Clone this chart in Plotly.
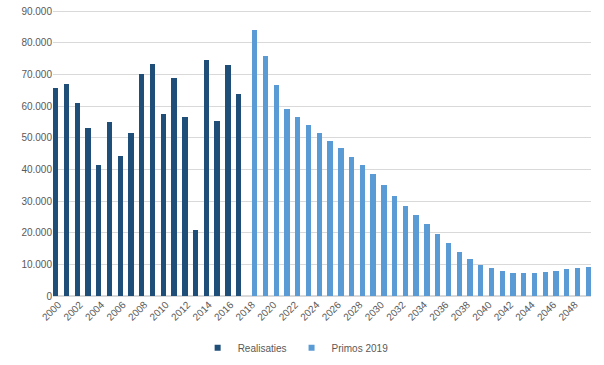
import plotly.graph_objects as go

years = list(range(2000, 2050))
realisaties_years = list(range(2000, 2018))
realisaties = [65700, 67100, 61100, 53200, 41500, 54900, 44300, 51400, 70100, 73400,
               57500, 68900, 56500, 20700, 74700, 55400, 73000, 63700]
primos_years = list(range(2018, 2050))
primos = [84000, 75900, 66800, 59000, 56500, 54100, 51400, 49000, 46900, 44000,
          41300, 38400, 35100, 31700, 28500, 25500, 22700, 19700, 16800, 13900,
          11600, 9900, 8800, 7900, 7300, 7200, 7400, 7600, 8000, 8400, 9000, 9300]
tick_years = list(range(2000, 2050, 2))

real_map = dict(zip(realisaties_years, realisaties))
prim_map = dict(zip(primos_years, primos))
real_full = [real_map.get(y) for y in years]
prim_full = [prim_map.get(y) for y in years]

DARK = "#1f4e79"
LIGHT = "#5b9bd5"

fig = go.Figure()
fig.add_trace(go.Bar(x=years, y=real_full, name="Realisaties", showlegend=False,
                     marker=dict(color=DARK, line=dict(width=0))))
fig.add_trace(go.Bar(x=years, y=prim_full, name="Primos 2019", showlegend=False,
                     marker=dict(color=LIGHT, line=dict(width=0))))
# legend entries with small square symbols
fig.add_trace(go.Scatter(x=[None], y=[None], mode="markers", name="Realisaties",
                         marker=dict(symbol="square", size=6, color=DARK)))
fig.add_trace(go.Scatter(x=[None], y=[None], mode="markers", name="Primos 2019",
                         marker=dict(symbol="square", size=6, color=LIGHT)))

fig.update_layout(
    width=604, height=365,
    barmode="group", bargap=0.0, bargroupgap=0.0,
    separators=",.",
    margin=dict(l=53, r=13, t=8, b=69, autoexpand=False),
    plot_bgcolor="white", paper_bgcolor="white",
    font=dict(family="Liberation Sans, Arial, sans-serif", size=10, color="#595959"),
    showlegend=True,
    legend=dict(orientation="h", x=0.451, xanchor="center",
                yref="container", y=0.047, yanchor="middle",
                font=dict(size=10, color="#595959"), itemwidth=30,
                tracegroupgap=0, traceorder="normal"),
    xaxis=dict(range=[1999.5, 2049.5], tickvals=tick_years,
               ticktext=[str(y) for y in tick_years], tickangle=-45,
               showgrid=False, zeroline=False, showline=False, ticks="",
               automargin=False, ticklabeloverflow="allow"),
    yaxis=dict(range=[0, 91000], tickvals=list(range(0, 90001, 10000)),
               tickformat=",d",
               showgrid=True, gridcolor="#d9d9d9", gridwidth=1,
               zeroline=True, zerolinecolor="#d9d9d9", ticks="", ticklen=0,
               automargin=False, ticklabeloverflow="allow"),
)

fig.write_html("out.html",
               config={"displayModeBar": False},
               post_script="document.body.style.margin='0';document.body.style.overflow='hidden';")
